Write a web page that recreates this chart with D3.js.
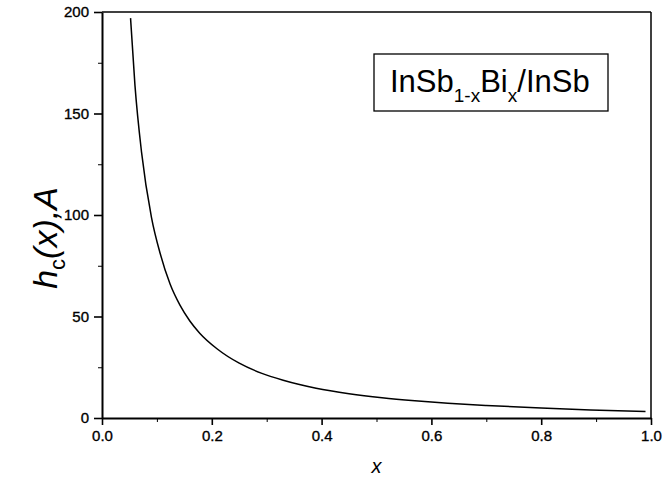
<!DOCTYPE html>
<html>
<head>
<meta charset="utf-8">
<script src="https://cdn.jsdelivr.net/npm/d3@7"></script>
<style>
  body { margin: 0; background: #fff; }
  text { font-family: "Liberation Sans", Arial, sans-serif; fill: #000; }
</style>
</head>
<body>
<script>
// values
const xValues = [0.052, 0.06, 0.072, 0.09, 0.106, 0.124, 0.142, 0.16, 0.178, 0.21, 0.25, 0.29, 0.33, 0.39, 0.45, 0.51, 0.57, 0.63, 0.70, 0.80, 0.89, 0.99];
const hcValues = [197, 164, 131, 99, 81, 66, 55.6, 47.8, 41.8, 34, 27, 22.1, 18.6, 14.7, 12, 10, 8.5, 7.3, 6.2, 4.9, 3.95, 3.15];
const xTicks = [0, 0.2, 0.4, 0.6, 0.8, 1.0];
const xMinor = [0.1, 0.3, 0.5, 0.7, 0.9];
const yTicks = [0, 50, 100, 150, 200];
const yMinor = [25, 75, 125, 175];

const data = xValues.map((x, i) => ({ x: x, h: hcValues[i] }));

const margin = { top: 12, right: 21, bottom: 63, left: 102 };
const width = 672 - margin.left - margin.right;
const height = 481 - margin.top - margin.bottom;

const svg = d3.select("body").append("svg")
    .attr("width", 672)
    .attr("height", 481);

const g = svg.append("g")
    .attr("transform", "translate(" + margin.left + "," + margin.top + ")");

const x = d3.scaleLinear().domain([0, 1]).range([0, width]);
const y = d3.scaleLinear().domain([0, 200]).range([height, 0]);

// minor ticks first
g.append("g")
    .attr("transform", "translate(0," + height + ")")
    .call(d3.axisBottom(x).tickValues(xMinor).tickSize(4).tickFormat(""))
    .call(a => a.select(".domain").remove());
g.append("g")
    .call(d3.axisLeft(y).tickValues(yMinor).tickSize(4).tickFormat(""))
    .call(a => a.select(".domain").remove());

// major axes
const xAxis = g.append("g")
    .attr("transform", "translate(0," + height + ")")
    .call(d3.axisBottom(x).tickValues(xTicks).tickSize(7).tickPadding(5).tickSizeOuter(0)
        .tickFormat(d3.format(".1f")));
const yAxis = g.append("g")
    .call(d3.axisLeft(y).tickValues(yTicks).tickSize(8).tickPadding(5).tickSizeOuter(0));

[xAxis, yAxis].forEach(a => {
  a.selectAll("text")
    .style("font-size", "15px")
    .style("font-family", "'Liberation Sans', Arial, sans-serif")
    .attr("stroke", "#000").attr("stroke-width", 0.35);
  a.selectAll("line").attr("stroke-width", 1.6);
  a.select(".domain").attr("stroke-width", 2);
});

// top and right frame
g.append("line").attr("x1", 0).attr("x2", width).attr("y1", 0).attr("y2", 0)
    .attr("stroke", "#000").attr("stroke-width", 1.5);
g.append("line").attr("x1", width).attr("x2", width).attr("y1", 0).attr("y2", height)
    .attr("stroke", "#000").attr("stroke-width", 1.5);

// curve
const line = d3.line()
    .x(d => x(d.x))
    .y(d => y(d.h))
    .curve(d3.curveMonotoneX);

g.append("path")
    .datum(data)
    .attr("d", line)
    .attr("fill", "none")
    .attr("stroke", "#000")
    .attr("stroke-width", 1.5);

// x label
svg.append("text")
    .attr("x", margin.left + width / 2)
    .attr("y", 473)
    .attr("text-anchor", "middle")
    .style("font-size", "20px")
    .style("font-style", "italic")
    .text("x");

// y label
const yl = svg.append("text")
    .attr("transform", "translate(57,238) rotate(-90)")
    .attr("text-anchor", "middle")
    .style("font-size", "34px");
yl.append("tspan").style("font-style", "italic").text("h");
yl.append("tspan").attr("dy", 8).style("font-size", "22px").text("c");
yl.append("tspan").attr("dy", -8).style("font-style", "italic").text("(x),A");

// legend box
const legend = svg.append("g");
legend.append("rect")
    .attr("x", 374).attr("y", 54)
    .attr("width", 234).attr("height", 57)
    .attr("fill", "none").attr("stroke", "#000").attr("stroke-width", 1.3);
const lt = legend.append("text")
    .attr("x", 390).attr("y", 92)
    .style("font-size", "31px");
lt.append("tspan").text("InSb");
lt.append("tspan").attr("dy", 10).style("font-size", "19px").text("1-x");
lt.append("tspan").attr("dy", -10).text("Bi");
lt.append("tspan").attr("dy", 10).style("font-size", "19px").text("x");
lt.append("tspan").attr("dy", -10).text("/InSb");
</script>
</body>
</html>
